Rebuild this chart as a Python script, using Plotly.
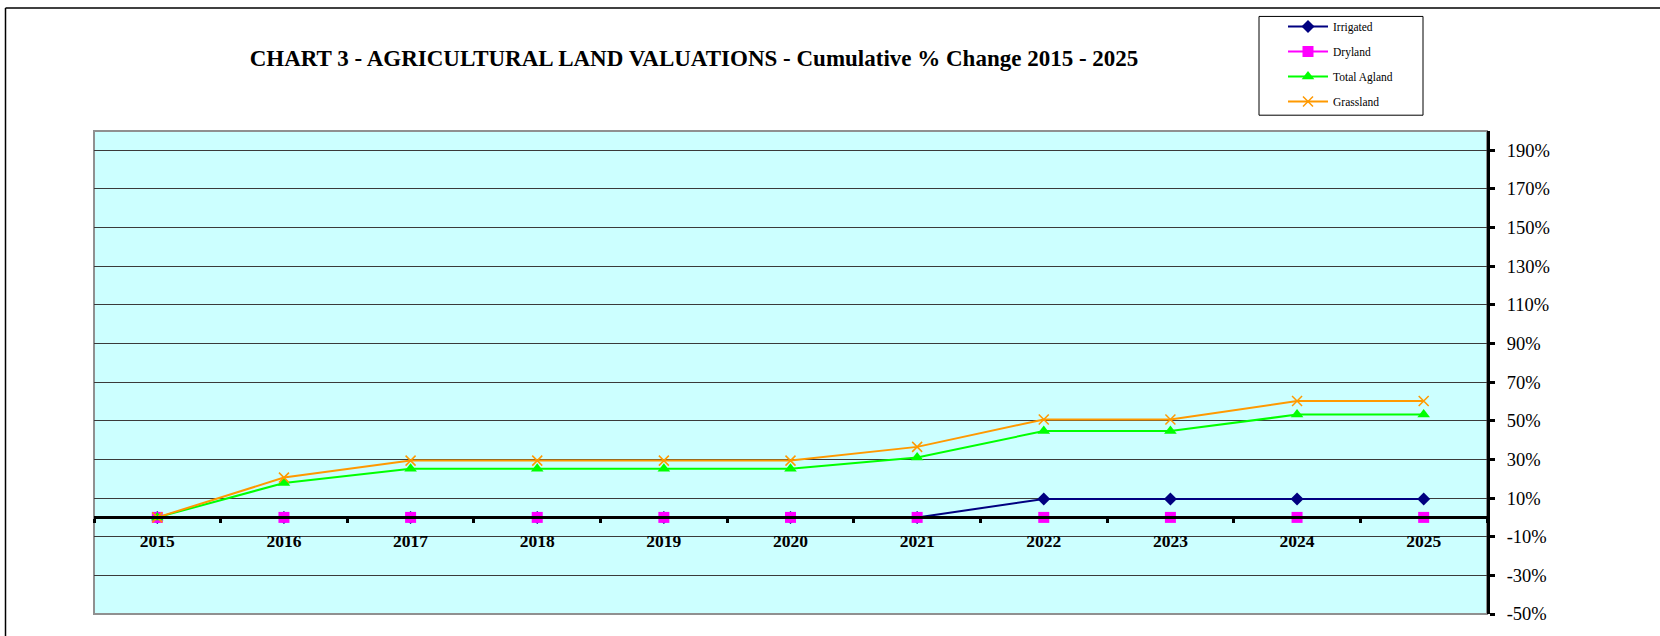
import plotly.graph_objects as go

years = ["2015", "2016", "2017", "2018", "2019", "2020", "2021", "2022", "2023", "2024", "2025"]
irrigated = [0, 0, 0, 0, 0, 0, 0, 9.5, 9.5, 9.5, 9.5]
dryland = [0, 0, 0, 0, 0, 0, 0, 0, 0, 0, 0]
total_agland = [0, 17.8, 25.2, 25.2, 25.2, 25.2, 31.0, 44.7, 44.7, 53.2, 53.2]
grassland = [0, 20.6, 29.4, 29.4, 29.4, 29.4, 36.5, 50.7, 50.7, 60.2, 60.2]
y_ticks = [-50, -30, -10, 10, 30, 50, 70, 90, 110, 130, 150, 170, 190]
y_tick_labels = [f"{v}%" for v in y_ticks]

title_text = "CHART 3 - AGRICULTURAL LAND VALUATIONS - Cumulative % Change 2015 - 2025"

series = [
    ("Irrigated", irrigated, "#000080", "diamond", 10, 2),
    ("Dryland", dryland, "#FF00FF", "square", 11, 2),
    ("Total Agland", total_agland, "#00FF00", "triangle-up", 11, 2),
    ("Grassland", grassland, "#FF9900", "x-thin", 10, 2),
]

SERIF = "Liberation Serif, Times New Roman, serif"

fig = go.Figure()
for name, vals, color, sym, size, lw in series:
    marker = dict(symbol=sym, size=size, color=color)
    if sym == "x-thin":
        marker["line"] = dict(color=color, width=1.5)
    fig.add_trace(go.Scatter(
        x=years, y=vals, name=name, mode="lines+markers",
        line=dict(color=color, width=lw), marker=marker,
        legendgroup=name, cliponaxis=False,
    ))

W, H = 1660, 636
L, R, T, B = 94, 1487, 128, 617
pw, ph = R - L, B - T

def px_x(px):
    return (px - L) / pw

def px_y(py):
    return (B - py) / ph

fig.update_layout(
    width=W, height=H,
    margin=dict(l=L, r=W - R, t=T, b=H - B, pad=0),
    paper_bgcolor="white",
    plot_bgcolor="#CCFFFF",
    font=dict(family=SERIF, color="black"),
    title=dict(
        text=f"<b>{title_text}</b>",
        x=694 / W, xanchor="center",
        y=1 - 58 / H, yanchor="middle",
        font=dict(size=23, family=SERIF, color="black"),
    ),
    showlegend=True,
    legend=dict(
        x=px_x(1283), y=px_y(7.5), xanchor="left", yanchor="top",
        borderwidth=0, bgcolor="rgba(0,0,0,0)",
        font=dict(size=11.5, family=SERIF),
        tracegroupgap=6, itemwidth=40,
    ),
    xaxis=dict(
        type="category", range=[-0.5, 10.5],
        anchor="free", position=0.2,
        showline=True, linecolor="black", linewidth=3,
        showgrid=False, zeroline=False,
        ticks="outside", tickson="boundaries", ticklen=4, tickwidth=3, tickcolor="black",
        tickfont=dict(size=17.5, family=SERIF, color="black", weight="bold"),
        ticklabelstandoff=7,
    ),
    yaxis=dict(
        range=[-50, 200], side="right",
        tickvals=y_ticks, ticktext=y_tick_labels,
        showline=True, linecolor="black", linewidth=3, mirror=False,
        showgrid=True, gridcolor="#3a3a3a", gridwidth=1.3,
        zeroline=False,
        ticks="outside", ticklen=5, tickwidth=3, tickcolor="black",
        tickfont=dict(size=18.5, family=SERIF, color="black"),
        ticklabelstandoff=8,
    ),
    shapes=[
        # plot area border (grey)
        dict(type="rect", xref="paper", yref="paper", x0=0, x1=1, y0=0, y1=1,
             line=dict(color="#909090", width=2), layer="below"),
        # legend box
        dict(type="rect", xref="paper", yref="paper",
             x0=px_x(1259), x1=px_x(1423), y0=px_y(112), y1=px_y(12),
             line=dict(color="black", width=1), fillcolor="white", layer="below"),
        # outer frame: left and top lines
        dict(type="line", xref="paper", yref="paper",
             x0=px_x(5.5), x1=px_x(5.5), y0=px_y(3.5), y1=px_y(640),
             line=dict(color="black", width=1.5)),
        dict(type="line", xref="paper", yref="paper",
             x0=px_x(5.5), x1=px_x(1662), y0=px_y(3.5), y1=px_y(3.5),
             line=dict(color="black", width=1.5)),
    ],
)

fig.write_html("out.html", config={"displayModeBar": False},
               post_script="document.body.style.margin='0px';")
